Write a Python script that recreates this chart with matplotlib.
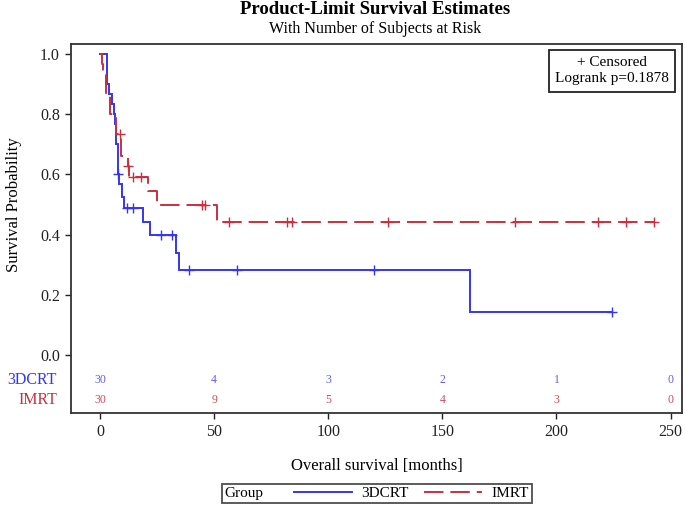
import numpy as np
import matplotlib
matplotlib.use("Agg")
import matplotlib.pyplot as plt
from matplotlib.lines import Line2D
from matplotlib.offsetbox import HPacker
import matplotlib.transforms as mtransforms

plt.rcParams['font.family'] = ['Liberation Serif', 'DejaVu Serif']
plt.rcParams['lines.scale_dashes'] = False

# ---- data ----
groups = ["3DCRT", "IMRT"]

blue_times = [0, 2.9, 4.0, 5.1, 6.2, 6.6, 7.0, 7.7, 8.0, 8.3, 9.8, 10.5, 19.0, 22.0, 33.3, 34.6, 162.0]
blue_surv = [1.0, 0.9, 0.867, 0.833, 0.8, 0.767, 0.7, 0.667, 0.6, 0.567, 0.525, 0.487, 0.443, 0.397, 0.34, 0.283, 0.142]
blue_censor = [8.1, 11.7, 14.3, 26.7, 31.7, 39.1, 60.0, 120.0, 224.5]

red_times = [0, 1.0, 1.5, 2.5, 4.3, 7.0, 9.2, 12.2, 12.6, 21.2, 24.8, 51.1]
red_surv = [1.0, 0.967, 0.933, 0.867, 0.8, 0.733, 0.66, 0.627, 0.59, 0.544, 0.497, 0.441]
red_censor = [8.8, 12.4, 14.6, 17.8, 44.5, 46.0, 56.5, 82.0, 84.0, 126.0, 181.7, 218.2, 230.3, 242.7]

risk_times = [0, 50, 100, 150, 200, 250]
risk_blue = [30, 4, 3, 2, 1, 0]
risk_red = [30, 9, 5, 4, 3, 0]

x_ticks = [0, 50, 100, 150, 200, 250]
y_ticks = [0.0, 0.2, 0.4, 0.6, 0.8, 1.0]
pvalue_text = "Logrank p=0.1878"

# ---- styles ----
BLUE = '#3535f5'
RED = '#c8303f'
BLUE_TXT = '#6060e8'
RED_TXT = '#d04a58'

fig = plt.figure(figsize=(6.85, 5.07), dpi=100)
ax = fig.add_axes([71/685, 1 - 413/507, (682 - 71)/685, (413 - 44)/507])


def level_at(times, surv, t):
    idx = np.searchsorted(times, t, side='right') - 1
    return np.asarray(surv)[idx]


def draw_curve(times, surv, cens, color, dashes):
    end = max(cens[-1], times[-1])
    tt = list(times) + [end]
    ss = list(surv) + [surv[-1]]
    line, = ax.step(tt, ss, where='post', color=color, lw=1.4, solid_joinstyle='miter')
    if dashes is not None:
        line.set_dashes(dashes)
    cy = [level_at(times, surv, c) for c in cens]
    ax.plot(cens, cy, linestyle='none', marker='+', markersize=7,
            markeredgewidth=1.0, color=color)
    return line


draw_curve(blue_times, blue_surv, blue_censor, BLUE, None)
draw_curve(red_times, red_surv, red_censor, RED, (14, 5))

ax.set_xlim(-12.7, 255.0)
ax.set_ylim(-0.193, 1.033)
ax.set_xticks(x_ticks)
ax.set_yticks(y_ticks)
ax.set_yticklabels([f"{v:.1f}" for v in y_ticks])
ax.tick_params(direction='out', length=4.5, width=1.0, labelsize=11.5, colors='#222222')
for s in ax.spines.values():
    s.set_linewidth(1.3)
    s.set_color('#333333')

ax.set_xlabel("Overall survival [months]", fontsize=12, labelpad=13)
ax.set_ylabel("Survival Probability", fontsize=12)
ax.yaxis.set_label_coords(-0.080, (413 - 204.5) / 369)

# risk table
for t, n in zip(risk_times, risk_blue):
    ax.text(t, -0.083, str(n), color=BLUE_TXT, fontsize=8.5, ha='center', va='center')
for t, n in zip(risk_times, risk_red):
    ax.text(t, -0.149, str(n), color=RED_TXT, fontsize=8.5, ha='center', va='center')
trans = mtransforms.blended_transform_factory(ax.transAxes, ax.transData)
ax.text(-0.023, -0.083, groups[0], color=BLUE, fontsize=11.5, ha='right', va='center', transform=trans)
ax.text(-0.023, -0.149, groups[1], color=RED, fontsize=11.5, ha='right', va='center', transform=trans)

# censored / logrank box
ax.text(0.9787, 0.9675, "+ Censored\n" + pvalue_text, transform=ax.transAxes,
        ha='right', va='top', fontsize=11, multialignment='center', linespacing=1.35,
        bbox=dict(boxstyle='square,pad=0.4', facecolor='white', edgecolor='#222222', lw=1.3))

# titles
fig.text(0.548, 1 - 10/507, "Product-Limit Survival Estimates", ha='center', va='center',
         fontsize=13.5, fontweight='bold')
fig.text(0.548, 1 - 29/507, "With Number of Subjects at Risk", ha='center', va='center',
         fontsize=11.5)

# legend
h1 = Line2D([], [], color=BLUE, lw=1.4)
h2 = Line2D([], [], color=RED, lw=1.4, dashes=(14, 5))
leg = fig.legend(handles=[h1, h2], labels=groups, ncol=2, title="Group",
                 loc='center', bbox_to_anchor=(0.550, 0.0266), frameon=True,
                 fancybox=False, edgecolor='#222222', fontsize=11, title_fontsize=11,
                 handlelength=3.8, handletextpad=0.6, columnspacing=1.0,
                 borderpad=0.2)
leg.get_frame().set_linewidth(1.3)
try:
    box = leg._legend_box
    title_box, handle_box = box.get_children()
    new = HPacker(pad=box.pad, sep=22, align='center', children=[title_box, handle_box])
    new.set_figure(fig)
    new.axes = leg.axes
    new.set_offset(leg._findoffset)
    leg._legend_box = new
except Exception:
    pass

fig.savefig("out.png", dpi=100)
